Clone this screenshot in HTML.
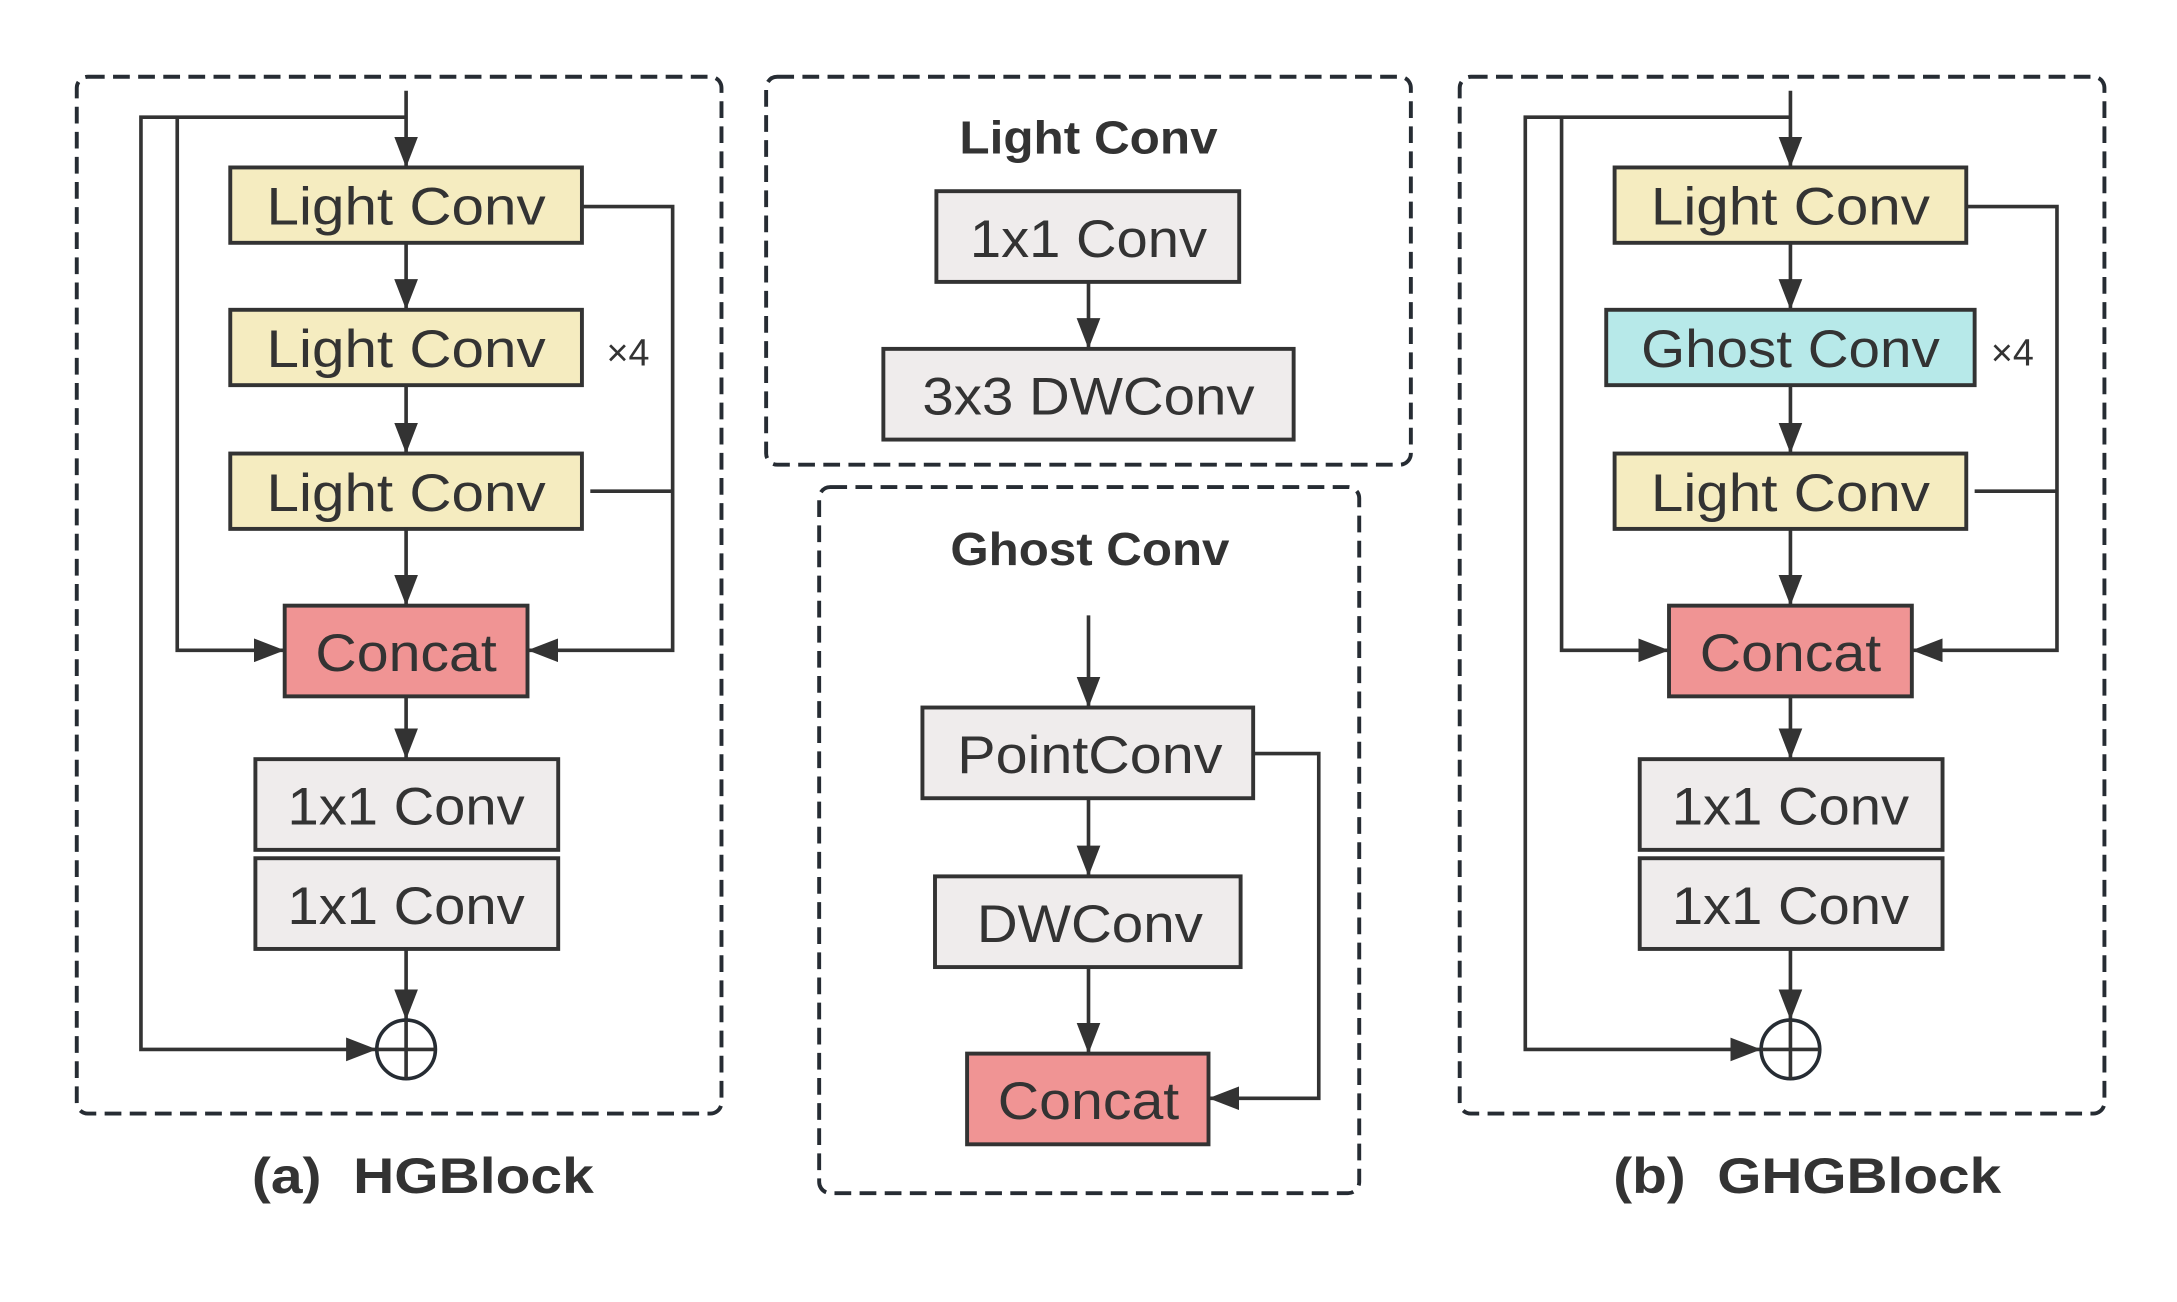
<!DOCTYPE html>
<html><head><meta charset="utf-8"><style>html,body{margin:0;padding:0;background:#fff}svg{display:block}</style></head>
<body>
<svg width="2177" height="1302" viewBox="0 0 1560 933" xmlns="http://www.w3.org/2000/svg" font-family="'Liberation Sans', sans-serif">
<defs>
<marker id="ar" viewBox="0 0 10 10" refX="10" refY="5" markerWidth="22" markerHeight="17" markerUnits="userSpaceOnUse" orient="auto" preserveAspectRatio="none">
<path d="M0,0 L10,5 L0,10 z" fill="#333"/></marker>
</defs>
<style>
.d{fill:none;stroke:#262c33;stroke-width:2.8;stroke-dasharray:12,6}
.b{stroke:#333;stroke-width:2.8}
.l{fill:none;stroke:#333;stroke-width:2.6}
.t{font-size:38px;fill:#333;text-anchor:middle}
.h{font-size:33px;font-weight:bold;fill:#333;text-anchor:middle}
</style>
<!-- panel a -->
<rect class="d" x="55" y="55" width="462" height="743" rx="8"/>
<g id="pa">
<rect class="b" x="165" y="120" width="252" height="54" fill="#f5ecc0"/>
<rect class="b" x="165" y="325" width="252" height="54" fill="#f5ecc0"/>
<rect class="b" x="204" y="434" width="174" height="65" fill="#f09494"/>
<rect class="b" x="183" y="544" width="217" height="65" fill="#efecec"/>
<rect class="b" x="183" y="615" width="217" height="65" fill="#efecec"/>
<text class="t" x="291" y="161" textLength="200" lengthAdjust="spacingAndGlyphs">Light Conv</text>
<text class="t" x="291" y="366" textLength="200" lengthAdjust="spacingAndGlyphs">Light Conv</text>
<text class="t" x="291" y="481" textLength="130" lengthAdjust="spacingAndGlyphs">Concat</text>
<text class="t" x="291" y="591" textLength="170" lengthAdjust="spacingAndGlyphs">1x1 Conv</text>
<text class="t" x="291" y="662" textLength="170" lengthAdjust="spacingAndGlyphs">1x1 Conv</text>
<text x="450" y="262" font-size="27" fill="#333" text-anchor="middle">×4</text>
<path class="l" d="M291,65 V120" marker-end="url(#ar)"/>
<path class="l" d="M291,174 V222" marker-end="url(#ar)"/>
<path class="l" d="M291,276 V325" marker-end="url(#ar)"/>
<path class="l" d="M291,379 V434" marker-end="url(#ar)"/>
<path class="l" d="M291,499 V544" marker-end="url(#ar)"/>
<path class="l" d="M291,680 V731" marker-end="url(#ar)"/>
<path class="l" d="M291,84 H101 V752 H270" marker-end="url(#ar)"/>
<path class="l" d="M127,84 V466 H204" marker-end="url(#ar)"/>
<path class="l" d="M417,148 H482 V466 H378" marker-end="url(#ar)"/>
<path class="l" d="M423,352 H482"/>
<circle cx="291" cy="752" r="21" fill="#fff" stroke="#262c33" stroke-width="2.6"/>
<path class="l" d="M270,752 H312 M291,731 V773"/>
</g>
<rect class="b" x="165" y="222" width="252" height="54" fill="#f5ecc0"/>
<text class="t" x="291" y="263" textLength="200" lengthAdjust="spacingAndGlyphs">Light Conv</text>
<text x="303" y="855" font-size="36" font-weight="bold" fill="#333" text-anchor="middle" textLength="245" lengthAdjust="spacingAndGlyphs" xml:space="preserve">(a)  HGBlock</text>

<!-- panel b -->
<rect class="d" x="1046" y="55" width="462" height="743" rx="8"/>
<use href="#pa" x="992" y="0"/>
<rect class="b" x="1151" y="222" width="264" height="54" fill="#b7e9e9"/>
<text class="t" x="1283" y="263" textLength="214" lengthAdjust="spacingAndGlyphs">Ghost Conv</text>
<text x="1295" y="855" font-size="36" font-weight="bold" fill="#333" text-anchor="middle" textLength="278" lengthAdjust="spacingAndGlyphs" xml:space="preserve">(b)  GHGBlock</text>

<!-- middle top -->
<rect class="d" x="549" y="55" width="462" height="278" rx="8"/>
<text class="h" x="780" y="110" textLength="185" lengthAdjust="spacingAndGlyphs">Light Conv</text>
<rect class="b" x="671" y="137" width="217" height="65" fill="#efecec"/>
<rect class="b" x="633" y="250" width="294" height="65" fill="#efecec"/>
<text class="t" x="780" y="184" textLength="170" lengthAdjust="spacingAndGlyphs">1x1 Conv</text>
<text class="t" x="780" y="297" textLength="238" lengthAdjust="spacingAndGlyphs">3x3 DWConv</text>
<path class="l" d="M780,202 V250" marker-end="url(#ar)"/>

<!-- middle bottom -->
<rect class="d" x="587" y="349" width="387" height="506" rx="8"/>
<text class="h" x="781" y="405" textLength="200" lengthAdjust="spacingAndGlyphs">Ghost Conv</text>
<rect class="b" x="661" y="507" width="237" height="65" fill="#efecec"/>
<rect class="b" x="670" y="628" width="219" height="65" fill="#efecec"/>
<rect class="b" x="693" y="755" width="173" height="65" fill="#f09494"/>
<text class="t" x="781" y="554" textLength="190" lengthAdjust="spacingAndGlyphs">PointConv</text>
<text class="t" x="781" y="675" textLength="162" lengthAdjust="spacingAndGlyphs">DWConv</text>
<text class="t" x="780" y="802" textLength="130" lengthAdjust="spacingAndGlyphs">Concat</text>
<path class="l" d="M780,441 V507" marker-end="url(#ar)"/>
<path class="l" d="M780,572 V628" marker-end="url(#ar)"/>
<path class="l" d="M780,693 V755" marker-end="url(#ar)"/>
<path class="l" d="M898,540 H945 V787 H866" marker-end="url(#ar)"/>
</svg>
</body></html>
